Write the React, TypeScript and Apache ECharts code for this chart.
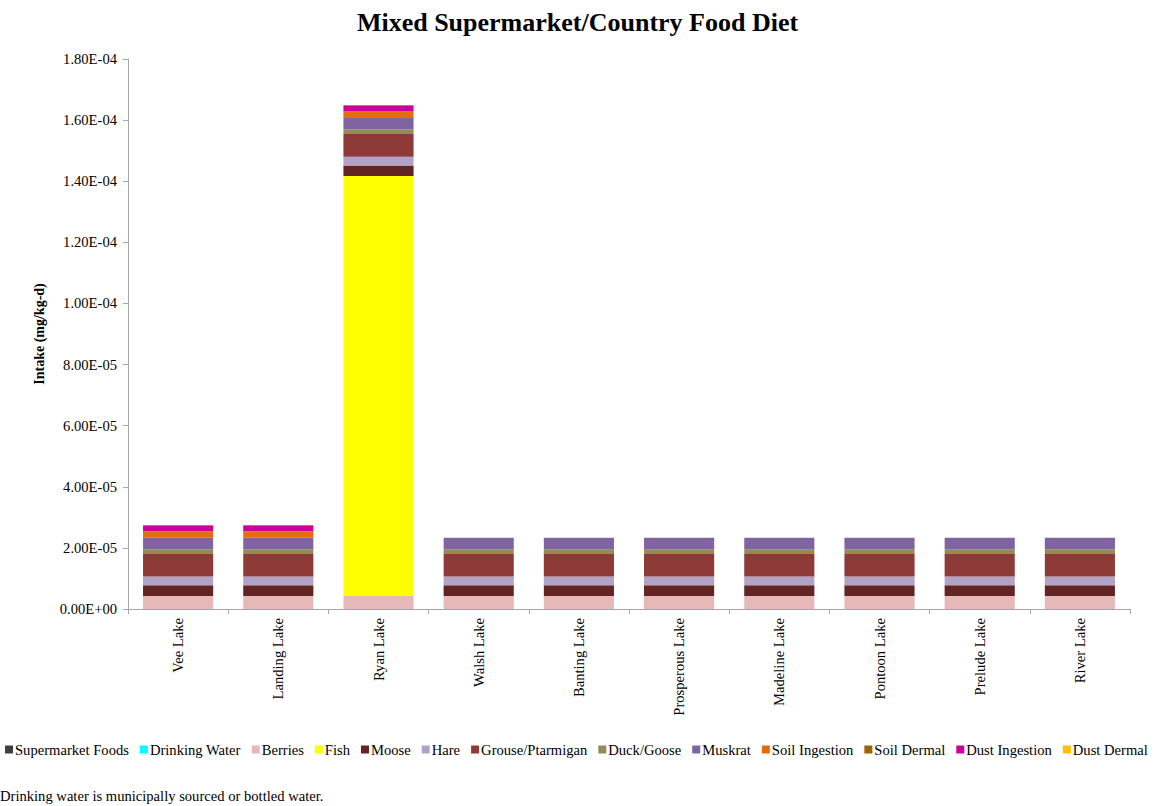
import React, { useEffect, useRef } from "react";
import * as echarts from "echarts";

const categories = [
  "Vee Lake", "Landing Lake", "Ryan Lake", "Walsh Lake", "Banting Lake",
  "Prosperous Lake", "Madeline Lake", "Pontoon Lake", "Prelude Lake", "River Lake",
];

const seriesNames = [
  "Supermarket Foods", "Drinking Water", "Berries", "Fish", "Moose", "Hare",
  "Grouse/Ptarmigan", "Duck/Goose", "Muskrat", "Soil Ingestion", "Soil Dermal",
  "Dust Ingestion", "Dust Dermal",
];

const colors = [
  "#404040", "#00FFFF", "#E6B9B8", "#FFFF00", "#632523", "#B3A2C7",
  "#8E3A38", "#948A54", "#8064A2", "#E46C0A", "#9C6500", "#CC0099", "#FFC000",
];

const supermarketFoods = [2e-8, 2e-8, 2e-8, 2e-8, 2e-8, 2e-8, 2e-8, 2e-8, 2e-8, 2e-8];
const drinkingWater = [1e-8, 1e-8, 1e-8, 1e-8, 1e-8, 1e-8, 1e-8, 1e-8, 1e-8, 1e-8];
const berries = [4.25e-6, 4.25e-6, 4.25e-6, 4.25e-6, 4.25e-6, 4.25e-6, 4.25e-6, 4.25e-6, 4.25e-6, 4.25e-6];
const fish = [0, 0, 1.374e-4, 0, 0, 0, 0, 0, 0, 0];
const moose = [3.5e-6, 3.5e-6, 3.5e-6, 3.5e-6, 3.5e-6, 3.5e-6, 3.5e-6, 3.5e-6, 3.5e-6, 3.5e-6];
const hare = [2.85e-6, 2.85e-6, 2.85e-6, 2.85e-6, 2.85e-6, 2.85e-6, 2.85e-6, 2.85e-6, 2.85e-6, 2.85e-6];
const grouse = [7.4e-6, 7.4e-6, 7.4e-6, 7.4e-6, 7.4e-6, 7.4e-6, 7.4e-6, 7.4e-6, 7.4e-6, 7.4e-6];
const duckGoose = [1.5e-6, 1.5e-6, 1.5e-6, 1.5e-6, 1.5e-6, 1.5e-6, 1.5e-6, 1.5e-6, 1.5e-6, 1.5e-6];
const muskrat = [3.8e-6, 3.8e-6, 3.8e-6, 3.8e-6, 3.8e-6, 3.8e-6, 3.8e-6, 3.8e-6, 3.8e-6, 3.8e-6];
const soilIngestion = [2.0e-6, 2.0e-6, 2.0e-6, 0, 0, 0, 0, 0, 0, 0];
const soilDermal = [1e-7, 1e-7, 1e-7, 0, 0, 0, 0, 0, 0, 0];
const dustIngestion = [2.0e-6, 2.0e-6, 2.0e-6, 0, 0, 0, 0, 0, 0, 0];
const dustDermal = [1e-7, 1e-7, 1e-7, 0, 0, 0, 0, 0, 0, 0];

const seriesData = [
  supermarketFoods, drinkingWater, berries, fish, moose, hare, grouse,
  duckGoose, muskrat, soilIngestion, soilDermal, dustIngestion, dustDermal,
];

const yTicks = [0, 2e-5, 4e-5, 6e-5, 8e-5, 1e-4, 1.2e-4, 1.4e-4, 1.6e-4, 1.8e-4];

const FONT = "'Liberation Serif', 'Times New Roman', serif";
const FS = 14.6;

function fmt(v: number): string {
  if (v === 0) return "0.00E+00";
  const e = Math.floor(Math.log10(Math.abs(v)) + 1e-9);
  const m = v / Math.pow(10, e);
  const sign = e < 0 ? "-" : "+";
  const ee = String(Math.abs(e)).padStart(2, "0");
  return m.toFixed(2) + "E" + sign + ee;
}

export default function App() {
  const ref = useRef<HTMLDivElement>(null);
  useEffect(() => {
    if (!ref.current) return;
    const chart = echarts.init(ref.current, null, { renderer: "svg" });
    chart.setOption({
      animation: false,
      backgroundColor: "#ffffff",
      textStyle: { fontFamily: FONT },
      title: {
        text: "Mixed Supermarket/Country Food Diet",
        left: "center",
        top: 4,
        textStyle: { fontFamily: FONT, fontSize: 26, fontWeight: "bold", color: "#000" },
      },
      grid: { left: 128, right: 25, top: 59, bottom: 197, containLabel: false },
      legend: {
        data: seriesNames,
        left: 5,
        top: 742,
        width: 1150,
        padding: 0,
        itemWidth: 8,
        itemHeight: 8,
        itemGap: 11,
        icon: "rect",
        textStyle: { fontFamily: FONT, fontSize: FS, color: "#000", padding: [0, 0, 0, -3] },
      },
      xAxis: {
        type: "category",
        data: categories,
        axisLine: { lineStyle: { color: "#A6A6A6" } },
        axisTick: { show: true, length: 5, lineStyle: { color: "#A6A6A6" } },
        axisLabel: { rotate: 90, fontFamily: FONT, fontSize: FS, color: "#000", margin: 9 },
      },
      yAxis: {
        type: "value",
        min: 0,
        max: 1.8e-4,
        interval: 2e-5,
        name: "Intake (mg/kg-d)",
        nameLocation: "middle",
        nameGap: 82,
        nameTextStyle: { fontFamily: FONT, fontSize: 14, fontWeight: "bold", color: "#000" },
        axisLine: { show: true, lineStyle: { color: "#A6A6A6" } },
        axisTick: { show: true, length: 5, lineStyle: { color: "#A6A6A6" } },
        splitLine: { show: false },
        axisLabel: {
          fontFamily: FONT,
          fontSize: FS,
          color: "#000",
          margin: 11,
          formatter: (v: number) => {
            const t = yTicks.find((x) => Math.abs(x - v) < 1e-9);
            return fmt(t !== undefined ? t : v);
          },
        },
      },
      series: seriesNames.map((name, i) => ({
        name,
        type: "bar",
        stack: "total",
        barCategoryGap: "30%",
        data: seriesData[i],
        itemStyle: { color: colors[i] },
      })),
      graphic: [
        {
          type: "text",
          left: 0,
          top: 788,
          style: {
            text: "Drinking water is municipally sourced or bottled water.",
            font: FS + "px " + FONT,
            fill: "#000",
          },
        },
      ],
    });
    return () => chart.dispose();
  }, []);
  return (
    <div
      ref={ref}
      style={{ position: "fixed", left: 0, top: 0, width: 1155, height: 806 }}
    />
  );
}
